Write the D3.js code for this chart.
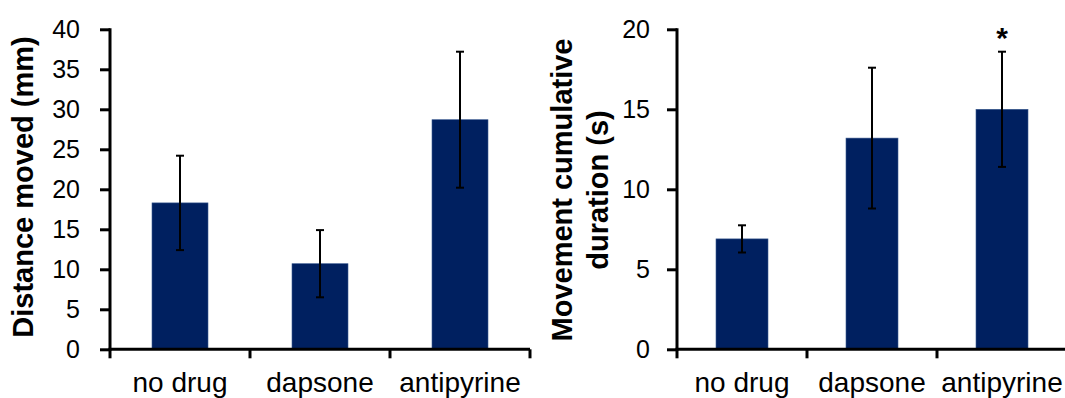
<!DOCTYPE html>
<html>
<head>
<meta charset="utf-8">
<script src="https://cdn.jsdelivr.net/npm/d3@7"></script>
<style>
  html, body { margin: 0; padding: 0; background: #fff; }
  svg { display: block; font-family: Arial, "Liberation Sans", sans-serif; }
</style>
</head>
<body>
<svg id="chart" width="1065" height="398"></svg>
<script>
// ---- data ----
const categories = ["no drug", "dapsone", "antipyrine"];
const distanceMean = [18.3, 10.7, 28.7];
const distanceErr = [5.9, 4.2, 8.5];
const durationMean = [6.9, 13.2, 15.0];
const durationErr = [0.85, 4.4, 3.6];
const distanceTicks = [0, 5, 10, 15, 20, 25, 30, 35, 40];
const durationTicks = [0, 5, 10, 15, 20];
const significance = ["", "", "*"];

const barColor = "#002060";
const svg = d3.select("#chart");

function panel(opts) {
  const g = svg.append("g");
  const x = d3.scaleBand().domain(categories)
    .range([opts.x0, opts.x1]).paddingInner(0.6).paddingOuter(0.3);
  const y = d3.scaleLinear().domain([0, opts.ymax]).range([349.3, 29.3]);

  // bars
  g.selectAll("rect.bar").data(categories).join("rect")
    .attr("class", "bar")
    .attr("x", d => x(d))
    .attr("width", x.bandwidth())
    .attr("y", (d, i) => y(opts.mean[i]))
    .attr("height", (d, i) => y(0) - y(opts.mean[i]))
    .attr("fill", barColor)
    .attr("stroke", "#3a5a90").attr("stroke-width", 0.6);

  // error bars
  const eb = g.selectAll("g.err").data(categories).join("g").attr("class", "err");
  const cx = d => x(d) + x.bandwidth() / 2;
  eb.append("line")
    .attr("x1", cx).attr("x2", cx)
    .attr("y1", (d, i) => y(opts.mean[i] + opts.err[i]))
    .attr("y2", (d, i) => y(opts.mean[i] - opts.err[i]))
    .attr("stroke", "#000").attr("stroke-width", 2);
  [1, -1].forEach(s => {
    eb.append("line")
      .attr("x1", d => cx(d) - 4).attr("x2", d => cx(d) + 4)
      .attr("y1", (d, i) => y(opts.mean[i] + s * opts.err[i]))
      .attr("y2", (d, i) => y(opts.mean[i] + s * opts.err[i]))
      .attr("stroke", "#000").attr("stroke-width", 2);
  });

  if (opts.sig) {
    eb.append("text")
      .attr("x", cx)
      .attr("y", (d, i) => y(opts.mean[i] + opts.err[i]) - 4)
      .attr("text-anchor", "middle")
      .attr("font-size", 30).attr("font-weight", "bold")
      .text((d, i) => opts.sig[i]);
  }

  // y axis
  const yAxis = d3.axisLeft(y).tickValues(opts.ticks).tickSize(10).tickSizeOuter(0)
    .tickPadding(opts.tickPad).tickFormat(d3.format("d"));
  const ya = g.append("g").attr("transform", `translate(${opts.x0},0)`).call(yAxis);
  ya.select(".domain").attr("stroke", "#000").attr("stroke-width", 3)
    .attr("d", `M0,${y(opts.ymax) - 1}V${y(0) + 1.5}`);
  ya.selectAll(".tick line").attr("stroke", "#000").attr("stroke-width", 3);
  ya.selectAll(".tick text").attr("font-size", 25).attr("fill", "#000")
    .attr("font-family", "Arial, 'Liberation Sans', sans-serif");

  // x axis
  const xAxis = d3.axisBottom(x).tickSize(0).tickPadding(0);
  const xa = g.append("g").attr("transform", `translate(0,${y(0)})`).call(xAxis);
  xa.select(".domain").attr("stroke", "#000").attr("stroke-width", 3)
    .attr("d", `M${opts.x0 - 1.5},0H${opts.x1}`);
  xa.selectAll(".tick text").attr("font-size", 28).attr("fill", "#000")
    .attr("dy", null).attr("y", 42.5)
    .attr("font-family", "Arial, 'Liberation Sans', sans-serif");
  const bounds = d3.range(categories.length + 1).map(i => x.range()[0] + i * x.step());
  xa.selectAll("line.bound").data(bounds).join("line")
    .attr("class", "bound")
    .attr("x1", d => d).attr("x2", d => d)
    .attr("y1", 0).attr("y2", 9)
    .attr("stroke", "#000").attr("stroke-width", 3);

  // y title
  const t = g.append("text")
    .attr("transform", `translate(${opts.titleX},${opts.titleY}) rotate(-90)`)
    .attr("text-anchor", "middle")
    .attr("font-size", 29).attr("font-weight", "bold").attr("fill", "#000");
  opts.title.forEach((line, i) => {
    t.append("tspan").attr("x", 0).attr("dy", i === 0 ? 0 : 36).text(line);
  });
}

panel({
  x0: 110, x1: 530, ymax: 40, mean: distanceMean, err: distanceErr,
  ticks: distanceTicks, tickPad: 20,
  title: ["Distance moved (mm)"], titleX: 33, titleY: 187
});

panel({
  x0: 677, x1: 1067, ymax: 20, mean: durationMean, err: durationErr,
  ticks: durationTicks, tickPad: 17, sig: significance,
  title: ["Movement cumulative", "duration (s)"], titleX: 572, titleY: 190
});
</script>
</body>
</html>
